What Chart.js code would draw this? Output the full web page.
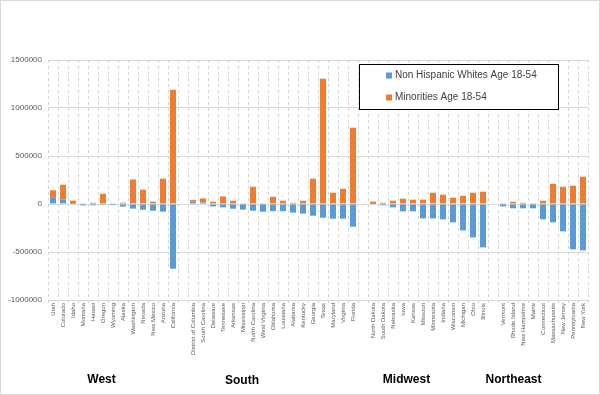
<!DOCTYPE html>
<html>
<head>
<meta charset="utf-8">
<script src="https://cdn.jsdelivr.net/npm/chart.js@4"></script>
<style>
  html, body { margin: 0; padding: 0; background: #fff; }
  #wrap { width: 600px; height: 395px; position: relative; }
</style>
</head>
<body>
<div id="wrap"><canvas id="graph-canvas"></canvas></div>
<script>
// states grouped by region, '' = gap between regions
var states = [
    "Utah", "Colorado", "Idaho", "Montana", "Hawaii", "Oregon", "Wyoming", "Alaska", "Washington", "Nevada", "New Mexico", "Arizona", "California",
    "",
    "District of Columbia", "South Carolina", "Delaware", "Tennessee", "Arkansas", "Mississippi", "North Carolina", "West Virginia", "Oklahoma", "Louisiana", "Alabama", "Kentucky", "Georgia", "Texas", "Maryland", "Virginia", "Florida",
    "",
    "North Dakota", "South Dakota", "Nebraska", "Iowa", "Kansas", "Missouri", "Minnesota", "Indiana", "Wisconsin", "Michigan", "Ohio", "Illinois",
    "",
    "Vermont", "Rhode Island", "New Hampshire", "Maine", "Connecticut", "Massachusetts", "New Jersey", "Pennsylvania", "New York"
];

var whites = [
    70000, 48000, 3000, -15000, -13000, -10000, -12000, -27000, -48000, -60000, -70000, -80000, -674000,
    null,
    25000, 15000, -25000, -35000, -49000, -59000, -70000, -80000, -75000, -75000, -90000, -100000, -122000, -143000, -153000, -153000, -236000,
    null,
    2000, -14000, -35000, -77000, -77000, -150000, -150000, -160000, -191000, -275000, -348000, -452000,
    null,
    -25000, -45000, -45000, -45000, -160000, -191000, -285000, -473000, -483000
];

var minorities = [
    73000, 153000, 32000, 3000, 13000, 107000, 3000, 14000, 256000, 149000, 24000, 264000, 1190000,
    null,
    18000, 43000, 24000, 79000, 34000, 3000, 180000, 2000, 76000, 34000, 13000, 34000, 264000, 1305000, 118000, 159000, 795000,
    null,
    23000, 13000, 34000, 55000, 45000, 45000, 118000, 97000, 66000, 86000, 118000, 128000,
    null,
    2000, 23000, 13000, 2000, 34000, 211000, 180000, 191000, 284000
];

var names = ["Non Hispanic Whites Age 18-54", "Minorities Age 18-54"];
var regions = ["West", "South", "Midwest", "Northeast"];
var colors = ["#5b9bd5", "#ed7d31"];

// where each region label sits, as a category position
var regionAnchor = [4.85, 18.9, 35.35, 46.05];

var frame = {
    id: 'frame',
    afterDraw: (chart) => {
        let ctx = chart.ctx;
        ctx.save();
        // outer border
        ctx.strokeStyle = '#d9d9d9';
        ctx.lineWidth = 1;
        ctx.strokeRect(0.5, 0.5, 599, 394);

        // legend box
        ctx.fillStyle = '#ffffff';
        ctx.fillRect(359.5, 64.5, 199, 45);
        ctx.strokeStyle = '#000000';
        ctx.strokeRect(359.5, 64.5, 199, 45);
        ctx.font = '10px "Liberation Sans", Arial, sans-serif';
        ctx.textBaseline = 'middle';
        ctx.textAlign = 'left';
        for (let i = 0; i < names.length; i++) {
            let y = 75.5 + i * 22;
            ctx.fillStyle = colors[i];
            ctx.fillRect(386, y - 3, 6, 6);
            ctx.fillStyle = '#404040';
            ctx.fillText(names[i], 395, y);
        }

        // region labels
        let xs = chart.scales.x;
        ctx.font = 'bold 12px "Liberation Sans", Arial, sans-serif';
        ctx.fillStyle = '#000000';
        ctx.textAlign = 'center';
        for (let i = 0; i < regions.length; i++) {
            ctx.fillText(regions[i], xs.getPixelForValue(regionAnchor[i]), i == 1 ? 381 : 380);
        }
        ctx.restore();
    }
};

var config = {
    type: 'bar',
    data: {
        labels: states,
        datasets: [
            {label: names[0], data: whites, backgroundColor: colors[0]},
            {label: names[1], data: minorities, backgroundColor: colors[1]}
        ]
    },
    options: {
        responsive: true,
        maintainAspectRatio: false,
        animation: false,
        layout: {padding: {left: 0, right: 12, top: 60, bottom: 0}},
        datasets: {bar: {categoryPercentage: 1, barPercentage: 0.6}},
        plugins: {
            legend: {display: false},
            tooltip: {enabled: true}
        },
        scales: {
            x: {
                stacked: true,
                afterFit: (s) => { s.height = 95; },
                grid: {color: '#d4d4d4', tickLength: 3, offset: true},
                border: {display: false, dash: [3, 3]},
                ticks: {
                    autoSkip: false,
                    minRotation: 90,
                    maxRotation: 90,
                    padding: 0,
                    color: '#595959',
                    font: {size: 6, family: '"Liberation Sans", Arial, sans-serif'}
                }
            },
            y: {
                stacked: true,
                min: -1000000,
                max: 1500000,
                afterFit: (s) => { s.width = 48; },
                grid: {color: '#d9d9d9', drawTicks: false},
                border: {display: false},
                ticks: {
                    stepSize: 500000,
                    padding: 6,
                    color: '#595959',
                    font: {size: 8, family: '"Liberation Sans", Arial, sans-serif'},
                    callback: (v) => v
                }
            }
        }
    },
    plugins: [frame]
};

var canvas = window.document.getElementById("graph-canvas");
var context = canvas.getContext('2d');
var chart = new Chart(context, config);
</script>
</body>
</html>
